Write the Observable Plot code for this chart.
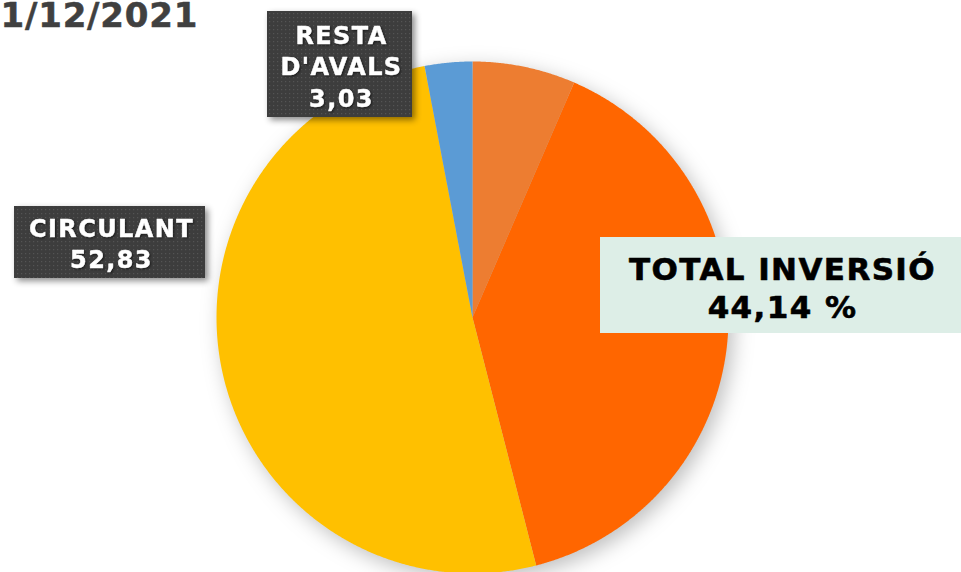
<!DOCTYPE html>
<html>
<head>
<meta charset="utf-8">
<script src="https://cdn.jsdelivr.net/npm/d3@7"></script>
<script src="https://cdn.jsdelivr.net/npm/@observablehq/plot@0.6"></script>
<style>
  html, body { margin: 0; padding: 0; background: #fff; }
  #chart { width: 961px; height: 572px; overflow: hidden; }
</style>
</head>
<body>
<div id="chart"></div>
<script>
// ---- data ----
const sliceNames  = ["Inversió A", "Inversió B", "Circulant", "Resta d'avals"];
const sliceValues = [6.5, 39.5, 51.0, 3.0];   // shares
const sliceColors = ["#ED7D31", "#FF6600", "#FFC000", "#5B9BD5"];

const labelTexts = ["RESTA\nD'AVALS\n3,03", "CIRCULANT\n52,83", "TOTAL INVERSIÓ\n44,14 %"];
const titleText = "1/12/2021";

// ---- layout (pixel space) ----
const W = 961, H = 572;
const cx = 472, cy = 317, R = 256;
const darkBoxes = [
  {x1: 267, x2: 412, y1: 11, y2: 117, tx: 341, ty: 65, text: labelTexts[0]},
  {x1: 14, x2: 205, y1: 206, y2: 278, tx: 111, ty: 242, text: labelTexts[1]}
];
const lightBox = {x1: 600, x2: 961, y1: 237, y2: 333, tx: 782, ty: 286, text: labelTexts[2]};

// build slice outlines from the values
const arcs = d3.pie().sort(null).value(d => d)(sliceValues);
const pts = [];
arcs.forEach((a, i) => {
  const name = sliceNames[i];
  pts.push({name, x: cx, y: cy});
  const n = Math.max(8, Math.ceil((a.endAngle - a.startAngle) / 0.005));
  for (let k = 0; k <= n; k++) {
    const t = a.startAngle + (a.endAngle - a.startAngle) * k / n;
    pts.push({name, x: cx + R * Math.sin(t), y: cy - R * Math.cos(t)});
  }
  pts.push({name, x: cx, y: cy});
});

const font = "Verdana, 'DejaVu Sans', sans-serif";

const svg = Plot.plot({
  width: W, height: H,
  margin: 0,
  x: {domain: [0, W], range: [0, W], axis: null},
  y: {domain: [0, H], range: [0, H], axis: null},
  color: {domain: sliceNames, range: sliceColors},
  style: {fontFamily: font, background: "#fff", overflow: "hidden"},
  marks: [
    Plot.line(pts, {x: "x", y: "y", z: "name", fill: "name", stroke: "none", curve: "linear"}),
    Plot.rect(darkBoxes, {x1: "x1", x2: "x2", y1: "y1", y2: "y2", fill: "url(#dots)"}),
    Plot.rect([lightBox], {x1: "x1", x2: "x2", y1: "y1", y2: "y2", fill: "#DDEEE7"}),
    Plot.text(darkBoxes, {x: "tx", y: "ty", text: "text", fill: "#fff", stroke: "#fff", strokeWidth: 0.5, fontSize: 24, fontWeight: "bold", lineHeight: 1.3, fontFamily: font}),
    Plot.text([lightBox], {x: "tx", y: "ty", text: "text", fill: "#000", stroke: "#000", strokeWidth: 0.6, fontSize: 31, fontWeight: "bold", lineHeight: 1.22, fontFamily: font}),
    Plot.text([titleText], {x: 0, y: 16, text: d => d, textAnchor: "start", fill: "#404040", stroke: "#404040", strokeWidth: 0.5, fontSize: 34, fontWeight: "bold", fontFamily: font})
  ]
});

// pattern + shadows
const sel = d3.select(svg);
const defs = sel.insert("defs", ":first-child");
const pat = defs.append("pattern").attr("id", "dots").attr("patternUnits", "userSpaceOnUse")
  .attr("width", 4).attr("height", 4);
pat.append("rect").attr("width", 4).attr("height", 4).attr("fill", "#3d3d3d");
pat.append("rect").attr("x", 1).attr("y", 1).attr("width", 1.2).attr("height", 1.2).attr("fill", "#545454");

const groups = sel.selectAll(":scope > g").nodes();
// groups order: line, dark rect, light rect, dark text, light text, title
d3.select(groups[0]).style("filter", "drop-shadow(5px 6px 10px rgba(0,0,0,0.25))");
d3.select(groups[1]).style("filter", "drop-shadow(3px 3px 3px rgba(0,0,0,0.45))");
d3.select(groups[3]).style("filter", "drop-shadow(1px 1px 1px rgba(0,0,0,0.6))").style("letter-spacing", "1.4px");
d3.select(groups[4]).style("letter-spacing", "1.4px");
d3.select(groups[5]).style("letter-spacing", "0.8px");

document.getElementById("chart").appendChild(svg);
</script>
</body>
</html>
